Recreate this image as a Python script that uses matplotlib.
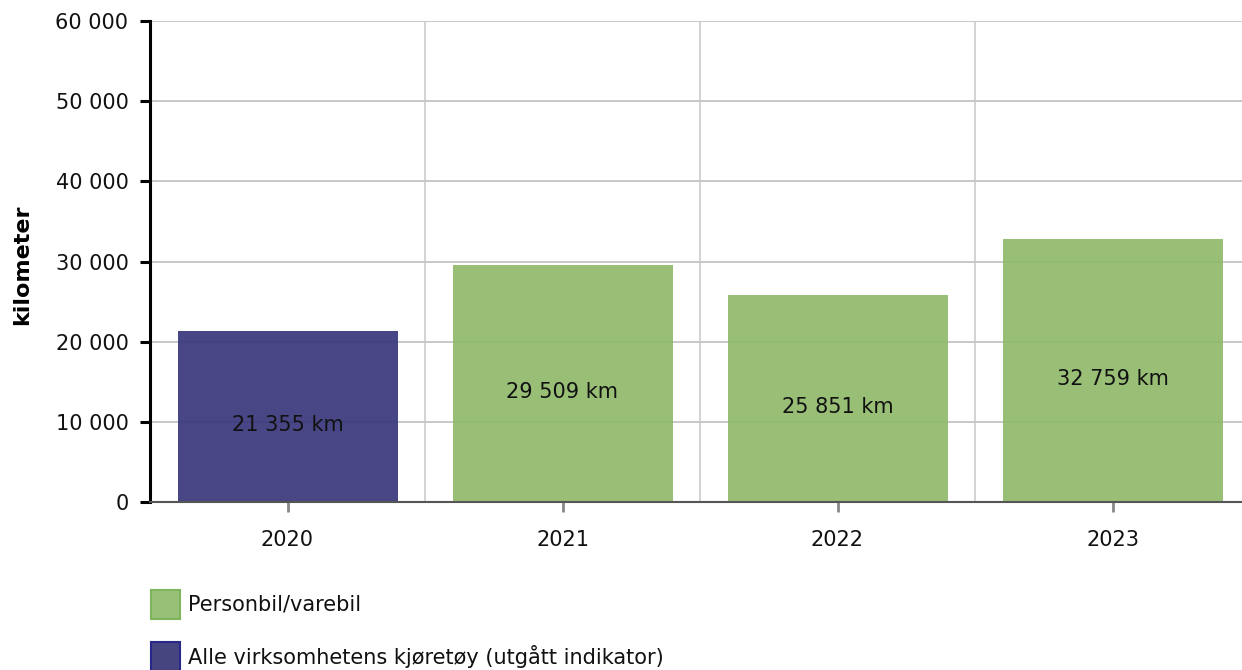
import matplotlib
matplotlib.use("Agg")
import matplotlib.pyplot as plt
from matplotlib.patches import Rectangle
from matplotlib.ticker import FuncFormatter

years = ["2020", "2021", "2022", "2023"]
values = [21355, 29509, 25851, 32759]
series = ["Alle virksomhetens kjøretøy (utgått indikator)", "Personbil/varebil", "Personbil/varebil", "Personbil/varebil"]
legend_labels = ["Personbil/varebil", "Alle virksomhetens kjøretøy (utgått indikator)"]
y_ticks = [0, 10000, 20000, 30000, 40000, 50000, 60000]
y_label = "kilometer"

colors = {"Personbil/varebil": "#90ba6b", "Alle virksomhetens kjøretøy (utgått indikator)": "#38367a"}
legend_colors = {"Personbil/varebil": "#99c077", "Alle virksomhetens kjøretøy (utgått indikator)": "#46457f"}
edges = {"Personbil/varebil": "#7fb55a", "Alle virksomhetens kjøretøy (utgått indikator)": "#27288a"}

plt.rcParams['font.family'] = ['DejaVu Sans']
FS = 15
W, H = 1242, 670
fig = plt.figure(figsize=(W / 100, H / 100), dpi=100)
left, right, top, bottom = 150, 1250, 21, 502
ax = fig.add_axes([left / W, 1 - bottom / H, (right - left) / W, (bottom - top) / H])

x = list(range(len(years)))
ax.bar(x, values, width=0.8, color=[colors[s] for s in series], zorder=2, alpha=0.92)
ax.set_xlim(-0.5, len(years) - 0.5)
ax.set_ylim(0, 60000)
ax.set_yticks(y_ticks)
ax.yaxis.set_major_formatter(FuncFormatter(lambda v, p: f"{int(v):,}".replace(",", " ")))
ax.set_xticks(x)
ax.set_xticklabels(years)

for yt in y_ticks[1:]:
    ax.axhline(yt, color="#c4c4c4", lw=1.3, zorder=1)
for b in [0.5, 1.5, 2.5]:
    ax.axvline(b, color="#d0d0d0", lw=1.3, zorder=0)

for xi, v in zip(x, values):
    ax.annotate(f"{v:,} km".replace(",", " "), (xi, v / 2), xytext=(0, -6), textcoords="offset points",
                ha="center", va="center", fontsize=FS, color="#111111", zorder=3)

for s in ["top", "right"]:
    ax.spines[s].set_visible(False)
ax.spines["left"].set_linewidth(2.2)
ax.spines["left"].set_color("black")
ax.spines["bottom"].set_color("#555555")
ax.spines["bottom"].set_linewidth(1.5)
ax.tick_params(axis="y", length=7.5, width=2.2, color="black", labelsize=FS, pad=8, labelcolor="#111111")
ax.tick_params(axis="x", length=7, width=2, color="#888888", labelsize=FS, pad=13, labelcolor="#111111")

fig.text(22 / W, 1 - 265 / H, y_label, rotation=90, ha="center", va="center", fontsize=16, fontweight="bold")

# legend
for i, lab in enumerate(legend_labels):
    y0 = 590 + i * 52
    fig.add_artist(Rectangle((151 / W, 1 - (y0 + 29) / H), 29 / W, 29 / H, transform=fig.transFigure,
                             facecolor=legend_colors[lab], edgecolor=edges[lab], linewidth=1.5))
    fig.text(188 / W, 1 - (y0 + 15) / H, lab, ha="left", va="center", fontsize=FS, color="#111111")

fig.savefig("out.png", dpi=100)
